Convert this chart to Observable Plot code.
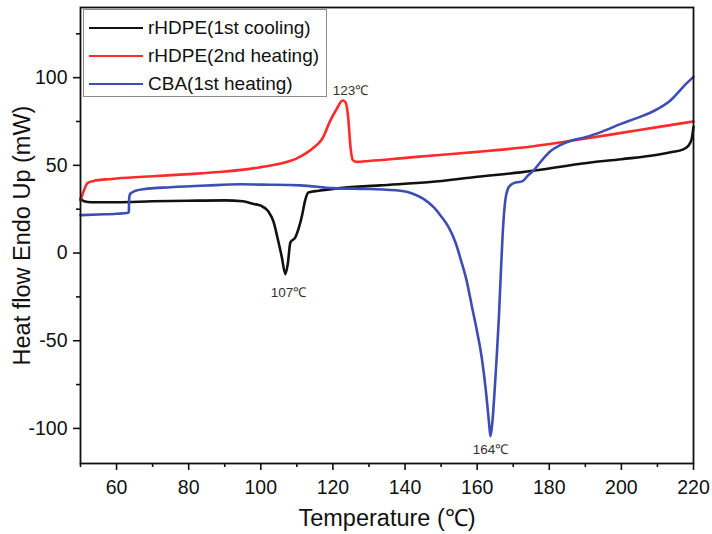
<!DOCTYPE html>
<html>
<head>
<meta charset="utf-8">
<script src="https://cdn.jsdelivr.net/npm/d3@7"></script>
<script src="https://cdn.jsdelivr.net/npm/@observablehq/plot@0.6"></script>
<style>
  html, body { margin: 0; padding: 0; background: #fff; }
  #wrap { position: relative; width: 712px; height: 534px; font-family: "Liberation Sans", Arial, sans-serif; }
  #legend { position: absolute; left: 83px; top: 9px; width: 244px; height: 88px; border: 1px solid #8a8a8a; background: #fff; box-sizing: border-box; }
  .row { position: absolute; left: 5px; height: 22px; display: flex; align-items: center; font-size: 19px; color: #111; white-space: nowrap; }
  .sw { width: 54px; height: 0; border-top: 2.5px solid; margin-right: 5px; }
</style>
</head>
<body>
<div id="wrap"></div>
<script>
// Series names
const seriesNames = ["rHDPE(1st cooling)", "rHDPE(2nd heating)", "CBA(1st heating)"];
const seriesColors = ["#111111", "#ff2a2a", "#3d4db4"];

// rHDPE 1st cooling: [temperature, heat flow]
const coolingT = [50,51,53,60,70,80,90,95,98,100,102,103.5,104.6,105.8,106.8,107.5,108.2,109.6,110.5,111.5,112.3,113.2,116,122,133,147,160,172,191,200,210,214,217,218.5,219.5,220];
const coolingH = [31,29.5,29,29,29.5,29.8,30,29.5,28,27,24,18,9,-2,-12,-6,6,9,14,22,30,34.5,35.5,37,38.6,40.5,43.5,46,51.5,53.5,56,57.6,59,61,65,72];

// rHDPE 2nd heating
const heatingT = [50,51,52,54,57,60,70,80,90,97,100,105.5,110,114.6,117,119.3,121,122.7,123.5,124.2,124.9,125.5,126.5,130,138.7,147,160,172,186,200,210,220];
const heatingH = [30,36,40,41.3,42,42.5,43.8,45,46.5,48,49,51,54,60,65,75.6,82,87,86,78,60,53,52,52.5,54,55.5,57.7,60,64,68.5,71.8,75];

// CBA 1st heating
const cbaT = [50,55,60,63.3,63.4,63.5,63.7,64.5,65.5,67.5,75,85,94.4,100,111,120,130,138.7,142,145,148,150,152,154,155.5,157,158.5,160,161.3,162.5,163.3,163.7,164.2,164.8,165.4,166,166.6,167.2,167.8,168.5,169.3,170,171,172.6,174,175.6,178,180.3,183,186,190,195,199.7,205,209,213.6,218,220];
const cbaH = [21.6,22,22.4,23,23.5,31,33.5,34.8,35.6,36.4,37.5,38.5,39.2,39,38.6,37,36.5,35.5,34,31,26,21,15,6,-4,-15,-30,-45,-60,-80,-97,-104.5,-97,-80,-60,-38,-10,15,30,36.5,38.8,39.7,40.3,41,44,47,53,58,61.5,64,66,69.5,73.5,77.5,81,87,96.6,100.5];

// Peak annotations
const peakLabels = ["123℃", "107℃", "164℃"];
const peakT = [124.9, 107.7, 163.7];
const peakH = [92.5, -22.5, -112];

const xMajor = [60,80,100,120,140,160,180,200,220];
const xMinor = [50,70,90,110,130,150,170,190,210];
const yMajor = [-100,-50,0,50,100];
const yMinor = [-75,-25,25,75,125];

const toRows = (T, H, s) => T.map((t, i) => ({t, h: H[i], s}));
const data = [
  ...toRows(coolingT, coolingH, seriesNames[0]),
  ...toRows(heatingT, heatingH, seriesNames[1]),
  ...toRows(cbaT, cbaH, seriesNames[2])
];
const peaks = peakLabels.map((l, i) => ({l, t: peakT[i], h: peakH[i]}));

const font = "'Liberation Sans', Arial, sans-serif";
const blank = () => "";
const plain = d => String(d);

const chart = Plot.plot({
  width: 712,
  height: 534,
  marginLeft: 80,
  marginRight: 19,
  marginTop: 7,
  marginBottom: 71,
  style: {fontFamily: font, background: "#fff", color: "#111"},
  x: {domain: [50, 220]},
  y: {domain: [-120, 140]},
  color: {domain: seriesNames, range: seriesColors},
  marks: [
    Plot.axisX({ticks: xMinor, tickSize: 4, tickFormat: blank, label: null, strokeWidth: 1.6}),
    Plot.axisX({ticks: xMajor, tickSize: 7, tickPadding: 10, tickFormat: plain, fontSize: 19.5, label: null, strokeWidth: 1.6}),
    Plot.axisY({ticks: yMinor, tickSize: 4, tickFormat: blank, label: null, strokeWidth: 1.6}),
    Plot.axisY({ticks: yMajor, tickSize: 7, tickPadding: 6, tickFormat: plain, fontSize: 19.5, label: null, strokeWidth: 1.6}),
    Plot.line(data, {x: "t", y: "h", z: "s", stroke: "s", strokeWidth: 2.6, curve: "monotone-x"}),
    Plot.text(peaks, {x: "t", y: "h", text: "l", fontSize: 13.5, fill: "#333"}),
    Plot.text(["Temperature (℃)"], {frameAnchor: "bottom", textAnchor: "middle", lineAnchor: "middle", dy: 55, fontSize: 23.5, fill: "#111"}),
    Plot.text(["Heat flow Endo Up (mW)"], {frameAnchor: "left", textAnchor: "middle", lineAnchor: "middle", rotate: -90, dx: -58, fontSize: 23.5, fill: "#111"}),
    Plot.frame({stroke: "#111", strokeWidth: 1.8})
  ]
});

const wrap = document.getElementById("wrap");
wrap.appendChild(chart);
const legend = document.createElement("div");
legend.id = "legend";
const tops = [7, 35, 63];
seriesNames.forEach((n, i) => {
  const r = document.createElement("div");
  r.className = "row";
  r.style.top = tops[i] + "px";
  const sw = document.createElement("div");
  sw.className = "sw";
  sw.style.borderTopColor = seriesColors[i];
  r.appendChild(sw);
  const lab = document.createElement("span");
  lab.textContent = n;
  r.appendChild(lab);
  legend.appendChild(r);
});
wrap.appendChild(legend);
</script>
</body>
</html>
